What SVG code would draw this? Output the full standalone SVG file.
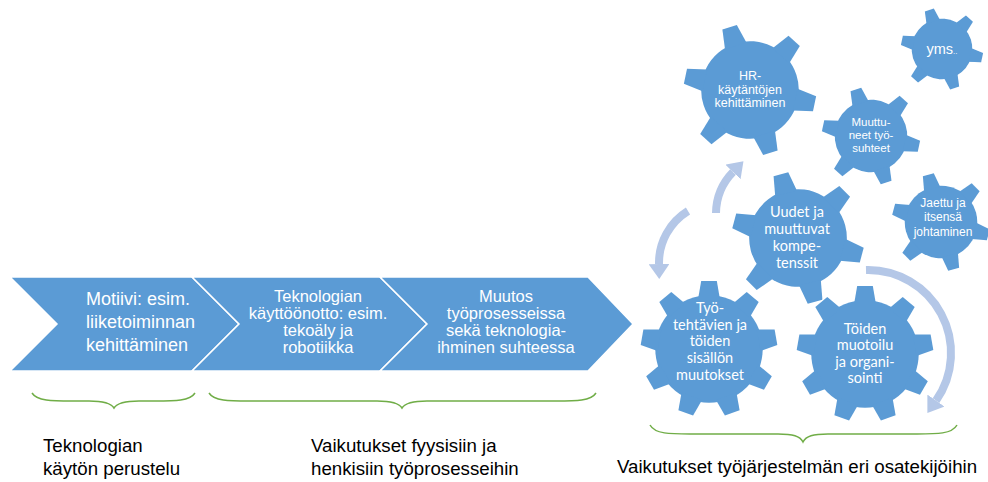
<svg xmlns="http://www.w3.org/2000/svg" xmlns:xlink="http://www.w3.org/1999/xlink" width="988" height="482" viewBox="0 0 988 482">
<style>
.chev{fill:#5b9bd5;stroke:#fff;stroke-width:1.5;stroke-linejoin:miter}
.gf{fill:#5b9bd5}
.go{fill:#5b9bd5;stroke:#fff;stroke-width:3}
.ct{font-family:"Liberation Sans",Arial,sans-serif;font-size:18px;fill:#fff}
.ct2{font-family:"Liberation Sans",Arial,sans-serif;font-size:16.5px;fill:#fff;text-anchor:middle}
.gh{font-family:"Liberation Sans",Arial,sans-serif;fill:#fff;text-anchor:middle}
.gc{font-family:Lato,"Open Sans",sans-serif;font-size:14.5px;fill:#fff;text-anchor:middle}
.lbl{font-family:"Liberation Sans",Arial,sans-serif;font-size:18.7px;fill:#000}
.brace{fill:none;stroke:#70ad47;stroke-width:1.5}
.arr{fill:none;stroke:#b4c7e7;stroke-width:8}
</style>
<defs>
<polygon id="t6" points="-17,-70 -11.5,-100 11.5,-100 17,-70"/>
<g id="g6">
<circle r="74"/>
<use xlink:href="#t6"/>
<use xlink:href="#t6" transform="rotate(60)"/>
<use xlink:href="#t6" transform="rotate(120)"/>
<use xlink:href="#t6" transform="rotate(180)"/>
<use xlink:href="#t6" transform="rotate(240)"/>
<use xlink:href="#t6" transform="rotate(300)"/>
</g>
<polygon id="t9" points="-16,-74 -11.5,-100 11.5,-100 16,-74"/>
<g id="g9">
<circle r="79"/>
<use xlink:href="#t9"/>
<use xlink:href="#t9" transform="rotate(40)"/>
<use xlink:href="#t9" transform="rotate(80)"/>
<use xlink:href="#t9" transform="rotate(120)"/>
<use xlink:href="#t9" transform="rotate(160)"/>
<use xlink:href="#t9" transform="rotate(200)"/>
<use xlink:href="#t9" transform="rotate(240)"/>
<use xlink:href="#t9" transform="rotate(280)"/>
<use xlink:href="#t9" transform="rotate(320)"/>
</g>
<marker id="ah" markerUnits="userSpaceOnUse" markerWidth="15" markerHeight="21" viewBox="0 0 15 21" refX="0" refY="10.5" orient="auto">
<path d="M0,0 L15,10.5 L0,21 z" fill="#b4c7e7"/>
</marker>
</defs>

<g id="chevron1">
<polygon class="chev" points="10,277 192,277 239,324 192,371 10,371 57,324"/>
<text class="ct" x="86"><tspan x="86" y="305">Motiivi: esim.</tspan><tspan x="86" y="328">liiketoiminnan</tspan><tspan x="86" y="351">kehittäminen</tspan></text>
</g>
<g id="chevron2">
<polygon class="chev" points="192,277 380,277 427,324 380,371 192,371 239,324"/>
<text class="ct2"><tspan x="318" y="302">Teknologian</tspan><tspan x="318" y="319">käyttöönotto: esim.</tspan><tspan x="318" y="336">tekoäly ja</tspan><tspan x="318" y="353">robotiikka</tspan></text>
</g>
<g id="chevron3">
<polygon class="chev" points="380,277 588,277 633,324 588,371 380,371 427,324"/>
<text class="ct2"><tspan x="506" y="302">Muutos</tspan><tspan x="506" y="319">työprosesseissa</tspan><tspan x="506" y="336">sekä teknologia-</tspan><tspan x="506" y="353">ihminen suhteessa</tspan></text>
</g>

<g id="gear-hr">
<use xlink:href="#g6" class="go" transform="translate(750,90) scale(0.66) rotate(-18)"/>
<use xlink:href="#g6" class="gf" transform="translate(750,90) scale(0.66) rotate(-18)"/>
<text class="gh" font-size="12.5"><tspan x="750" y="80">HR-</tspan><tspan x="750" y="94">käytäntöjen</tspan><tspan x="750" y="107">kehittäminen</tspan></text>
</g>
<g id="gear-yms">
<use xlink:href="#g6" class="go" transform="translate(942,49) scale(0.41) rotate(-18)"/>
<use xlink:href="#g6" class="gf" transform="translate(942,49) scale(0.41) rotate(-18)"/>
<text class="gh" x="942" y="54" font-size="14.5">yms<tspan font-size="8">..</tspan></text>
</g>
<g id="gear-muuttuneet">
<use xlink:href="#g6" class="go" transform="translate(871,136) scale(0.49) rotate(-18)"/>
<use xlink:href="#g6" class="gf" transform="translate(871,136) scale(0.49) rotate(-18)"/>
<text class="gh" font-size="11.5"><tspan x="871" y="126">Muuttu-</tspan><tspan x="871" y="139">neet työ-</tspan><tspan x="871" y="152">suhteet</tspan></text>
</g>
<g id="gear-jaettu">
<use xlink:href="#g6" class="go" transform="translate(941,222) scale(0.49) rotate(-15)"/>
<use xlink:href="#g6" class="gf" transform="translate(941,222) scale(0.49) rotate(-15)"/>
<text class="gh" font-size="12"><tspan x="943" y="207">Jaettu ja</tspan><tspan x="943" y="221">itsensä</tspan><tspan x="943" y="236">johtaminen</tspan></text>
</g>
<g id="gear-uudet">
<use xlink:href="#g6" class="go" transform="translate(798,238) scale(0.66) rotate(-15)"/>
<use xlink:href="#g6" class="gf" transform="translate(798,238) scale(0.66) rotate(-15)"/>
<text class="gc"><tspan x="797" y="217">Uudet ja</tspan><tspan x="797" y="234">muuttuvat</tspan><tspan x="797" y="251">kompe-</tspan><tspan x="797" y="268">tenssit</tspan></text>
</g>
<g id="gear-toiden">
<use xlink:href="#g9" class="go" transform="translate(865,354) scale(0.68)"/>
<use xlink:href="#g9" class="gf" transform="translate(865,354) scale(0.68)"/>
<text class="gc"><tspan x="865" y="334">Töiden</tspan><tspan x="865" y="350">muotoilu</tspan><tspan x="865" y="367">ja organi-</tspan><tspan x="865" y="383">sointi</tspan></text>
</g>
<g id="gear-tyo">
<use xlink:href="#g9" class="go" transform="translate(709,349) scale(0.68)"/>
<use xlink:href="#g9" class="gf" transform="translate(709,349) scale(0.68)"/>
<text class="gc"><tspan x="710" y="313">Työ-</tspan><tspan x="710" y="330">tehtävien ja</tspan><tspan x="710" y="346">töiden</tspan><tspan x="710" y="363">sisällön</tspan><tspan x="710" y="380">muutokset</tspan></text>
</g>

<g id="connectors">
<path class="arr" d="M716,213 A60,60 0 0 1 733,172" marker-end="url(#ah)"/>
<path class="arr" d="M688,211 A61,61 0 0 0 659,264" marker-end="url(#ah)"/>
<path class="arr" d="M866,270 A83,83 0 0 1 936,400.6" marker-end="url(#ah)"/>
</g>

<g id="braces">
<path class="brace" d="M32,393 C37,401 52,401 72,401 L89,401 C104,401 111,403 114,408 C117,403 124,401 139,401 L155,401 C175,401 190,401 195,393"/>
<path class="brace" d="M209,393 C214,401 229,401 249,401 L377,401 C392,401 399,403 402,408 C405,403 412,401 427,401 L556,401 C576,401 591,401 596,393"/>
<path class="brace" d="M650,425 C655,434 670,434 690,434 L778,434 C793,434 800,436 803,442 C806,436 813,434 828,434 L917,434 C937,434 952,434 957,425"/>
</g>

<g id="labels">
<text class="lbl"><tspan x="43" y="452">Teknologian</tspan><tspan x="43" y="475">käytön perustelu</tspan></text>
<text class="lbl"><tspan x="311" y="452">Vaikutukset fyysisiin ja</tspan><tspan x="311" y="475">henkisiin työprosesseihin</tspan></text>
<text class="lbl" x="617" y="473">Vaikutukset työjärjestelmän eri osatekijöihin</text>
</g>
</svg>
